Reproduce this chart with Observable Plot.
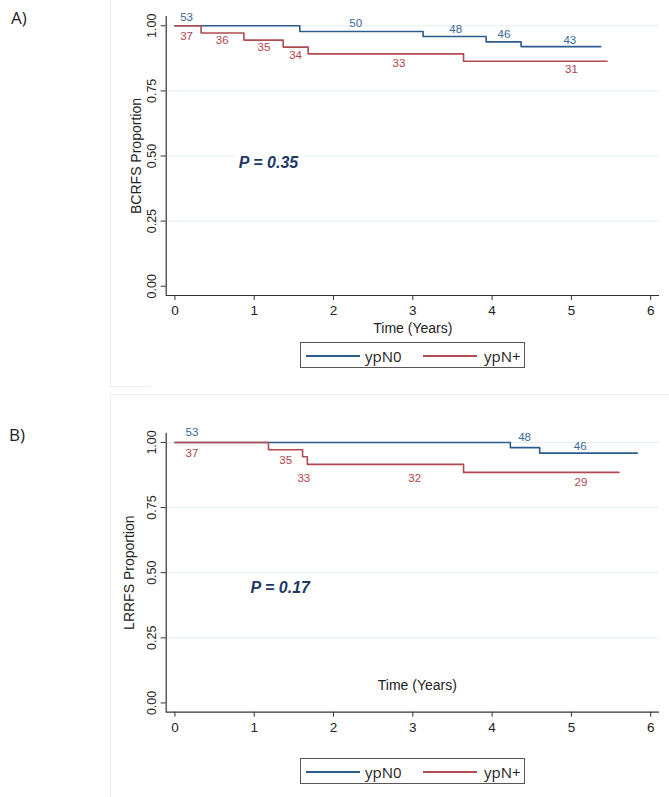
<!DOCTYPE html>
<html>
<head>
<meta charset="utf-8">
<script src="https://cdn.jsdelivr.net/npm/d3@7"></script>
<script src="https://cdn.jsdelivr.net/npm/@observablehq/plot@0.6"></script>
<style>
  html, body { margin: 0; padding: 0; background: #fff; }
  body { position: relative; width: 669px; height: 797px; overflow: hidden; font-family: "Liberation Sans", Arial, sans-serif; }
  .abs { position: absolute; }
  .vline { position: absolute; width: 1px; background: #e9eff1; }
  .hline { position: absolute; height: 1px; background: #e9eff1; }
  .tag { position: absolute; font-family: "Open Sans", sans-serif; font-size: 17px; line-height: 17px; color: #222; }
  .legend { position: absolute; width: 223px; height: 24px; border: 1px solid #555; background: #fff; font-family: "Open Sans", sans-serif; font-size: 15px; color: #222; }
  .legend .sw { position: absolute; top: 12px; height: 1.6px; width: 54px; }
  .legend .lt { position: absolute; top: 3px; line-height: 20px; }
</style>
</head>
<body>
<script>
// ---------- shared axis data ----------
const timeTicks = [0, 1, 2, 3, 4, 5, 6];
const propTicks = [0, 0.25, 0.5, 0.75, 1];
const gridTicks = [0.25, 0.5, 0.75, 1];
const groupNames = ["ypN0", "ypN+"];
const groupColors = ["#2c5b8d", "#b34a51"];
const labelColors = ["#3a6898", "#b5434c"];

// ---------- Panel A: BCRFS ----------
const bcrfsN0Time = [0, 1.575, 3.13, 3.925, 4.365, 5.37];
const bcrfsN0Surv = [1, 0.978, 0.959, 0.938, 0.920, 0.920];
const bcrfsNpTime = [0, 0.33, 0.87, 1.365, 1.68, 3.64, 5.45];
const bcrfsNpSurv = [1, 0.972, 0.945, 0.918, 0.892, 0.864, 0.864];
const bcrfsN0RiskTime = [0.147, 2.28, 3.54, 4.15, 4.98];
const bcrfsN0RiskLevel = [1.031, 1.008, 0.986, 0.967, 0.946];
const bcrfsN0Risk = [53, 50, 48, 46, 43];
const bcrfsNpRiskTime = [0.147, 0.596, 1.122, 1.521, 2.826, 5.0];
const bcrfsNpRiskLevel = [0.960, 0.946, 0.919, 0.885, 0.854, 0.831];
const bcrfsNpRisk = [37, 36, 35, 34, 33, 31];
const bcrfsP = ["P = 0.35"];
const bcrfsPTime = [1.18];
const bcrfsPLevel = [0.472];

// ---------- Panel B: LRRFS ----------
const lrrfsN0Time = [0, 4.23, 4.60, 5.83];
const lrrfsN0Surv = [1, 0.980, 0.959, 0.959];
const lrrfsNpTime = [0, 1.18, 1.61, 1.67, 3.64, 5.60];
const lrrfsNpSurv = [1, 0.972, 0.945, 0.916, 0.885, 0.885];
const lrrfsN0RiskTime = [0.215, 4.41, 5.11];
const lrrfsN0RiskLevel = [1.038, 1.018, 0.987];
const lrrfsN0Risk = [53, 48, 46];
const lrrfsNpRiskTime = [0.215, 1.397, 1.626, 3.023, 5.12];
const lrrfsNpRiskLevel = [0.957, 0.930, 0.864, 0.864, 0.847];
const lrrfsNpRisk = [37, 35, 33, 32, 29];
const lrrfsP = ["P = 0.17"];
const lrrfsPTime = [1.328];
const lrrfsPLevel = [0.441];

const xDomain = [-0.11, 6.111];
const yDomain = [-0.0355, 1.0355];

function rows(t, s) { return t.map((d, i) => ({time: d, surv: s[i]})); }
function labelRows(t, l, n) { return t.map((d, i) => ({time: d, level: l[i], n: n[i]})); }

function kmPlot(cfg) {
  const axisColor = "#333";
  return Plot.plot({
    width: 669,
    height: cfg.height,
    marginLeft: 165.7,
    marginRight: 10,
    marginTop: cfg.marginTop,
    marginBottom: cfg.marginBottom,
    style: {background: "transparent", fontFamily: "Liberation Sans, Arial, sans-serif", overflow: "visible", color: "#222"},
    x: {domain: xDomain},
    y: {domain: yDomain},
    marks: [
      Plot.gridY(gridTicks, {stroke: "#e4eef0", strokeOpacity: 1, strokeWidth: 1}),
      Plot.ruleY([yDomain[0]], {stroke: axisColor, strokeWidth: 1.2}),
      Plot.ruleX([xDomain[0]], {stroke: axisColor, strokeWidth: 1.2}),
      Plot.axisX({ticks: timeTicks, tickSize: 5, tickPadding: 5, fontSize: 13.5, tickFormat: d => String(d), label: null, stroke: axisColor}),
      Plot.axisY({ticks: propTicks, tickSize: 5, tickFormat: () => "", label: null, stroke: axisColor}),
      Plot.text(propTicks, {y: d => d, text: d => d3.format(".2f")(d), frameAnchor: "left", dx: -14, rotate: -90, textAnchor: "middle", lineAnchor: "middle", fontSize: 12.5, fill: "#222"}),
      Plot.text([cfg.yTitle], {text: d => d, frameAnchor: "left", dx: cfg.yTitleDx, rotate: -90, textAnchor: "middle", lineAnchor: "middle", fontSize: 14, fill: "#222"}),
      Plot.text(["Time (Years)"], {text: d => d, frameAnchor: "bottom", dx: cfg.xLabelDx, dy: cfg.xLabelDy, textAnchor: "middle", lineAnchor: "middle", fontSize: 14, fill: "#222"}),
      Plot.text(cfg.pText.map((d, i) => ({t: d, x: cfg.pTime[i], y: cfg.pLevel[i]})), {x: "x", y: "y", text: "t", fontSize: 16, fontWeight: "bold", fontStyle: "italic", fill: "#213866", stroke: "white", strokeWidth: 12, strokeLinejoin: "round", paintOrder: "stroke", lineAnchor: "middle"}),
      Plot.line(cfg.n0, {x: "time", y: "surv", curve: "step-after", stroke: groupColors[0], strokeWidth: 1.6}),
      Plot.line(cfg.np, {x: "time", y: "surv", curve: "step-after", stroke: groupColors[1], strokeWidth: 1.6}),
      Plot.text(cfg.n0Labels, {x: "time", y: "level", text: "n", fill: labelColors[0], fontSize: 11.5, lineAnchor: "middle"}),
      Plot.text(cfg.npLabels, {x: "time", y: "level", text: "n", fill: labelColors[1], fontSize: 11.5, lineAnchor: "middle"})
    ]
  });
}

function legend(top) {
  const div = document.createElement("div");
  div.className = "legend";
  div.style.left = "300px";
  div.style.top = top + "px";
  div.innerHTML =
    `<div class="sw" style="left:5px;background:${groupColors[0]}"></div>` +
    `<div class="lt" style="left:64px">${groupNames[0]}</div>` +
    `<div class="sw" style="left:122px;background:${groupColors[1]}"></div>` +
    `<div class="lt" style="left:183px">${groupNames[1]}</div>`;
  return div;
}

function place(el, left, top) {
  const w = document.createElement("div");
  w.className = "abs";
  w.style.left = left + "px";
  w.style.top = top + "px";
  w.appendChild(el);
  document.body.appendChild(w);
}

function addLine(cls, style) {
  const d = document.createElement("div");
  d.className = cls;
  Object.assign(d.style, style);
  document.body.appendChild(d);
}

// panel borders
addLine("vline", {left: "110px", top: "0px", height: "387px"});
addLine("hline", {left: "110px", top: "386px", width: "40px"});
addLine("hline", {left: "110px", top: "394px", width: "559px"});
addLine("vline", {left: "110px", top: "394px", height: "403px"});

const plotA = kmPlot({
  height: 390, marginTop: 16, marginBottom: 95,
  n0: rows(bcrfsN0Time, bcrfsN0Surv), np: rows(bcrfsNpTime, bcrfsNpSurv),
  n0Labels: labelRows(bcrfsN0RiskTime, bcrfsN0RiskLevel, bcrfsN0Risk),
  npLabels: labelRows(bcrfsNpRiskTime, bcrfsNpRiskLevel, bcrfsNpRisk),
  pText: bcrfsP, pTime: bcrfsPTime, pLevel: bcrfsPLevel,
  yTitle: "BCRFS Proportion", yTitleDx: -30, xLabelDx: 0, xLabelDy: 33
});
place(plotA, 0, 0);

const plotB = kmPlot({
  height: 403, marginTop: 38.7, marginBottom: 85.3,
  n0: rows(lrrfsN0Time, lrrfsN0Surv), np: rows(lrrfsNpTime, lrrfsNpSurv),
  n0Labels: labelRows(lrrfsN0RiskTime, lrrfsN0RiskLevel, lrrfsN0Risk),
  npLabels: labelRows(lrrfsNpRiskTime, lrrfsNpRiskLevel, lrrfsNpRisk),
  pText: lrrfsP, pTime: lrrfsPTime, pLevel: lrrfsPLevel,
  yTitle: "LRRFS Proportion", yTitleDx: -36.5, xLabelDx: 4.5, xLabelDy: -26.7
});
place(plotB, 0, 394);

document.body.appendChild(legend(342));
document.body.appendChild(legend(758));

const tagA = document.createElement("div");
tagA.className = "tag"; tagA.style.left = "11px"; tagA.style.top = "8.7px"; tagA.textContent = "A)";
document.body.appendChild(tagA);
const tagB = document.createElement("div");
tagB.className = "tag"; tagB.style.left = "9px"; tagB.style.top = "426px"; tagB.textContent = "B)";
document.body.appendChild(tagB);
</script>
</body>
</html>
